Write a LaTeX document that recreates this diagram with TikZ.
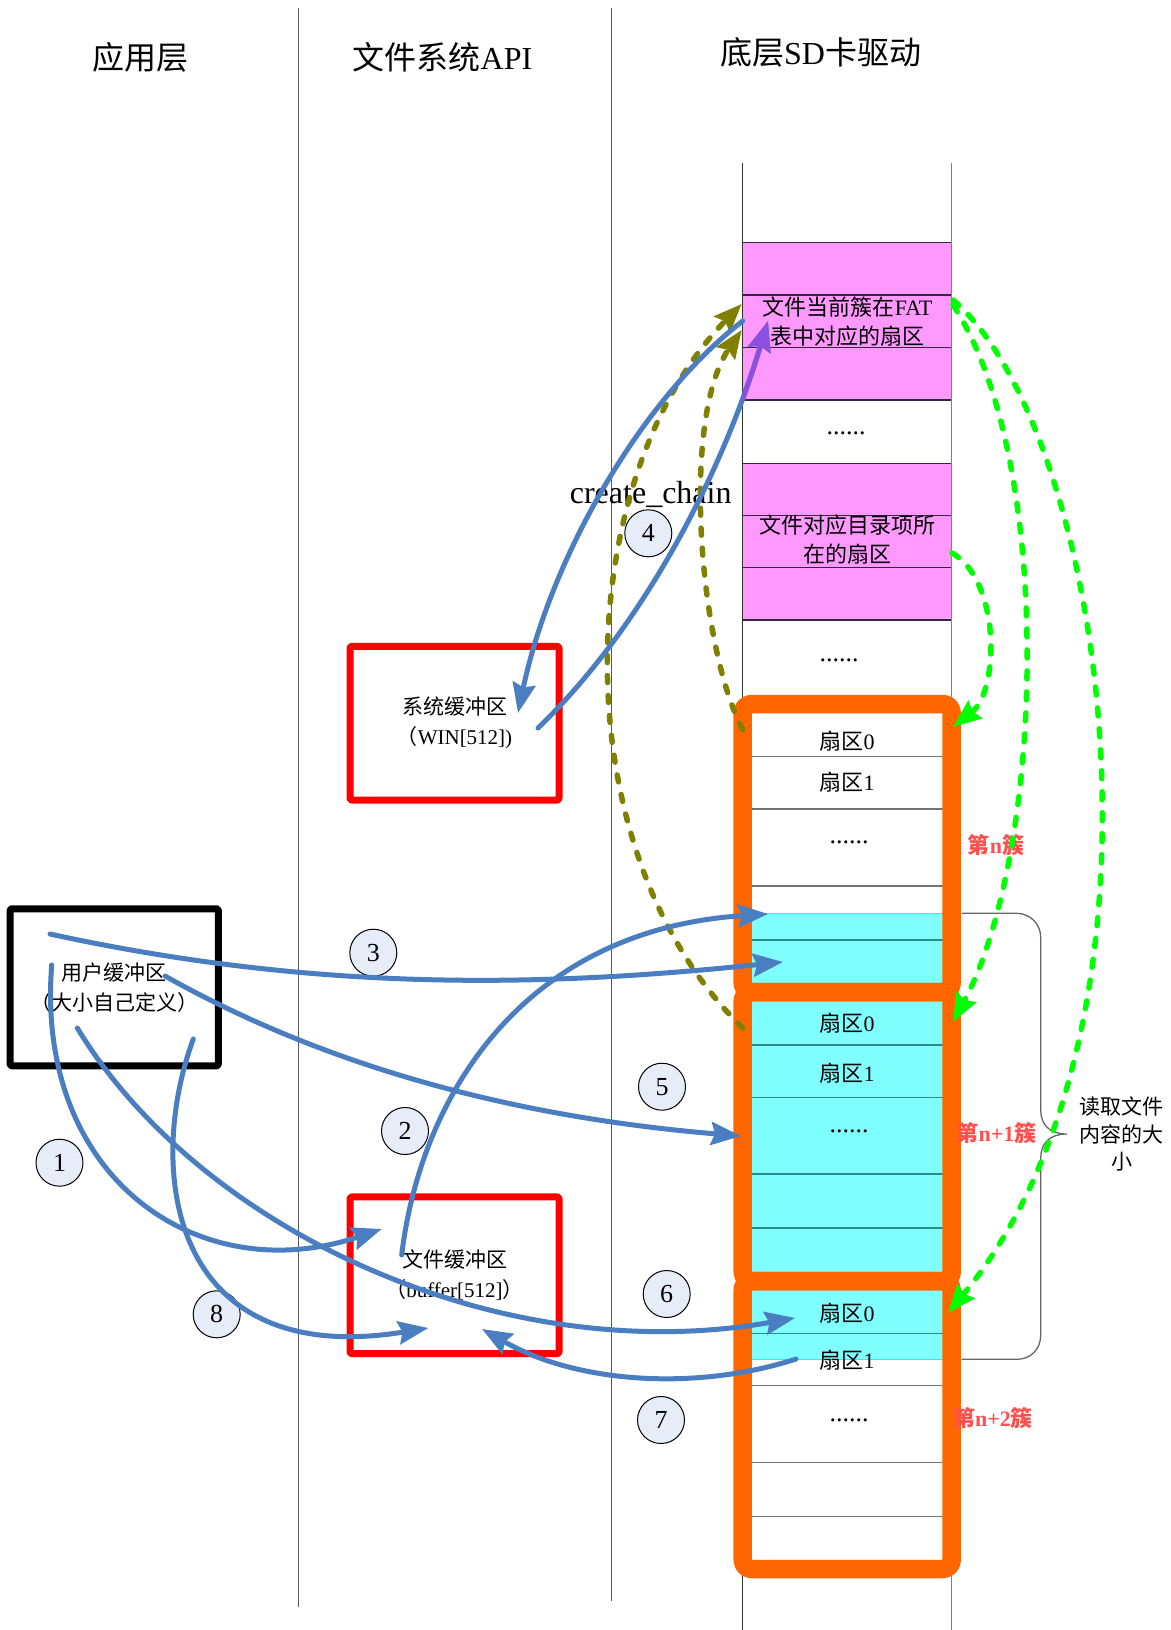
\documentclass[tikz,border=0pt]{standalone}
\usepackage{fontspec}
\setmainfont{Liberation Serif}
\newfontfamily\cjk{Noto Sans CJK SC}
\usetikzlibrary{arrows.meta}
\newcommand{\zh}[1]{{\cjk #1}}
\definecolor{pinkc}{RGB}{255,153,255}
\definecolor{cyanc}{RGB}{128,255,255}
\definecolor{cyanedge}{RGB}{64,230,230}
\definecolor{tealc}{RGB}{40,140,140}
\definecolor{orangec}{RGB}{255,102,0}
\definecolor{bluec}{RGB}{74,126,193}
\definecolor{olivec}{RGB}{128,128,0}
\definecolor{greenc}{RGB}{0,255,0}
\definecolor{purplec}{RGB}{140,80,225}
\definecolor{circfill}{RGB}{230,236,248}
\definecolor{redlab}{RGB}{255,80,80}
\definecolor{rowline}{RGB}{50,40,60}
\tikzset{
  lane/.style={draw=black!65, line width=1.2pt},
  title/.style={font=\fontsize{32}{36}\selectfont, inner sep=0pt},
  bufbox/.style={draw=red, line width=7pt, rounded corners=2pt, align=center,
    font=\fontsize{21}{30}\selectfont, inner sep=0pt},
  userbox/.style={bufbox, draw=black},
  cell/.style={font=\fontsize{22}{29.5}\selectfont, inner sep=0pt, align=center},
  dots/.style={font=\fontsize{26}{26}\selectfont, inner sep=0pt},
  clus/.style={draw=orangec, line width=18.5pt, rounded corners=9pt},
  cluslab/.style={text=redlab, font=\fontsize{22}{22}\selectfont\bfseries, inner sep=0pt},
  num/.style={circle, draw=black, line width=1pt, fill=circfill, minimum size=47pt,
    inner sep=0pt, font=\fontsize{26}{26}\selectfont},
  bigtip/.style={-{Stealth[length=30pt,width=23pt,inset=4pt]}},
  bluearr/.style={draw=bluec, line width=5pt, line cap=round, bigtip},
  purplearr/.style={draw=purplec, line width=5pt, line cap=round, bigtip},
  olivearr/.style={draw=olivec, line width=5.5pt, line cap=round,
    dash pattern=on 7pt off 13pt, -{Stealth[length=28pt,width=22pt,inset=4pt]}},
  greenarr/.style={draw=greenc, line width=5.5pt, line cap=round,
    dash pattern=on 8pt off 13pt, -{Stealth[length=28pt,width=22pt,inset=3pt]}},
  bracel/.style={draw=black!60, line width=1.3pt},
}
\begin{document}
\begin{tikzpicture}[x=1pt, y=-1pt, line join=round]
\useasboundingbox (0,0) rectangle (1170,1630);
\fill[white] (0,0) rectangle (1170,1630);

% lanes and their titles
\draw[lane] (298.5,8) -- (298.5,1607);
\draw[lane] (611.5,8) -- (611.5,1601);
\node[title] (tapp) at (140.4,57) {\zh{应用层}};
\node[title] (tapi) at (442.5,57) {\zh{文件系统}API};
\node[title] (tsd) at (820.6,52) {\zh{底层}SD\zh{卡驱动}};

% buffers
\node[userbox, minimum width=208.3pt, minimum height=157.1pt] (ubuf) at (114.2,987.3)
  {\zh{用户缓冲区}\\\zh{（大小自己定义）}};
\node[bufbox, minimum width=209pt, minimum height=153.7pt] (winbuf) at (454.5,723.2)
  {\zh{系统缓冲区}\\\zh{（}WIN[512])};
\node[bufbox, minimum width=209pt, minimum height=156.7pt] (filebuf) at (454.5,1275.3)
  {\zh{文件缓冲区}\\\zh{（}buffer[512]\zh{）}};

% SD card sector column
\fill[pinkc] (742.7,242.7) rectangle (951.7,400);
\fill[pinkc] (742.7,463.3) rectangle (951.7,620);
\fill[cyanc] (742.7,913.3) rectangle (951.7,1359.3);
\foreach \y in {242.7,295,347.3,400,463.3,515.3,567.7,620}
  \draw[rowline, line width=1.2pt] (742.7,\y) -- (951.7,\y);
\foreach \y in {756.7,809,886,1385.7,1462.7,1516.7}
  \draw[black!55, line width=1.2pt] (742.7,\y) -- (951.7,\y);
\foreach \y in {940,1045,1097.3,1174,1228,1333.3}
  \draw[tealc, line width=1.2pt] (742.7,\y) -- (951.7,\y);
\foreach \y in {913.3,1359.3}
  \draw[cyanedge, line width=1.2pt] (742.7,\y) -- (951.7,\y);
\draw[black!80, line width=1.2pt] (742.7,163) -- (742.7,1630);
\draw[black!50, line width=1.2pt] (951.7,163) -- (951.7,1630);

\node[cell] (fatsec) at (847.5,321.8) {\zh{文件当前簇在}FAT\\\zh{表中对应的扇区}};
\node[cell] (dirsec) at (847.5,539.5) {\zh{文件对应目录项所}\\\zh{在的扇区}};
\node[dots] (gap1) at (846,433) {......};
\node[dots] (gap2) at (839,660) {......};

% clusters
\draw[clus] (742.7,704) rectangle (951.7,992);
\draw[clus] (742.7,992) rectangle (951.7,1281);
\draw[clus] (742.7,1281) rectangle (951.7,1569);

\node[cell] (n0) at (847,741) {\zh{扇区}0};
\node[cell] (n1) at (847,782) {\zh{扇区}1};
\node[dots] (n2) at (849,842) {......};
\node[cell] (m0) at (847,1023) {\zh{扇区}0};
\node[cell] (m1) at (847,1073) {\zh{扇区}1};
\node[dots] (m2) at (849,1131) {......};
\node[cell] (k0) at (847,1313) {\zh{扇区}0};
\node[cell] (k1) at (847,1360) {\zh{扇区}1};
\node[dots] (k2) at (849,1420) {......};

\node[cluslab] (cn) at (996,845) {\zh{第}n\zh{簇}};
\node[cluslab] (cn1) at (996.5,1133) {\zh{第}n+1\zh{簇}};
\node[cluslab] (cn2) at (993,1418) {\zh{第}n+2\zh{簇}};

% brace for the amount of file data read
\draw[bracel] (961.7,913.3) -- (1016.7,913.3)
  .. controls (1030,913.3) and (1040.7,924) .. (1040.7,937.3) -- (1040.7,1110)
  .. controls (1040.7,1125) and (1050,1134) .. (1066.7,1134)
  .. controls (1050,1134) and (1040.7,1143) .. (1040.7,1158) -- (1040.7,1335)
  .. controls (1040.7,1350) and (1030,1359.3) .. (1016.7,1359.3) -- (961.7,1359.3);
\node[align=center, inner sep=0pt, font=\fontsize{21}{27.5}\selectfont] (rdsize) at (1121.7,1134)
  {\zh{读取文件}\\\zh{内容的大}\\\zh{小}};

\node[inner sep=0pt, font=\fontsize{32}{32}\selectfont] (cc) at (650.7,494) {create\_chain};

% step numbers
\node[num] (c1) at (59.5,1162.7) {1};
\node[num] (c2) at (405,1131) {2};
\node[num] (c3) at (373.3,952.7) {3};
\node[num] (c4) at (648.3,533.3) {4};
\node[num] (c5) at (662,1086.7) {5};
\node[num] (c6) at (666.7,1294) {6};
\node[num] (c7) at (661,1420) {7};
\node[num] (c8) at (216.7,1314.3) {8};

% connector end points
\coordinate (a1s) at (51.7,965);   \coordinate (a1e) at (381.7,1229);
\coordinate (a2s) at (401.7,1255); \coordinate (a2e) at (768,914);
\coordinate (a3s) at (50,934);     \coordinate (a3e) at (783,962);
\coordinate (a4as) at (742.7,321); \coordinate (a4ae) at (518,713);
\coordinate (a4bs) at (538,728);   \coordinate (a4be) at (768,321);
\coordinate (a5s) at (165,976);    \coordinate (a5e) at (741,1136);
\coordinate (a6s) at (77.3,1028);  \coordinate (a6e) at (795,1318);
\coordinate (a7s) at (796,1359);   \coordinate (a7e) at (482,1329);
\coordinate (a8s) at (193.3,1039); \coordinate (a8e) at (428.3,1328);
\coordinate (o1s) at (742.7,1028); \coordinate (o1e) at (741.7,304);
\coordinate (o2s) at (742.7,729.6); \coordinate (o2e) at (741.7,330);
\coordinate (gas) at (953,305);    \coordinate (gae) at (953,1022);
\coordinate (gbs) at (953,300);    \coordinate (gbe) at (948,1313);
\coordinate (gcs) at (952,553);    \coordinate (gce) at (953,727);

% FAT chain lookups
\draw[olivearr] (o1s) .. controls (560,850) and (570,480) .. (o1e);
\draw[olivearr] (o2s) .. controls (700,650) and (680,420) .. (o2e);
\draw[greenarr] (gas) .. controls (1055,460) and (1045,850) .. (gae);
\draw[greenarr] (gbs) .. controls (1105,430) and (1190,1020) .. (gbe);
\draw[greenarr] (gcs) .. controls (1000,580) and (1000,690) .. (gce);

% data transfers
\draw[bluearr] (a1s) .. controls (35,1180) and (200,1290) .. (a1e);
\draw[bluearr] (a2s) .. controls (420,1100) and (520,930) .. (a2e);
\draw[bluearr] (a3s) .. controls (330,995) and (560,985) .. (a3e);
\draw[bluearr] (a4as) .. controls (640,400) and (550,560) .. (a4ae);
\draw[bluearr] (a4bs) .. controls (640,630) and (720,480) .. (a4be);
\begin{scope}
  \clip (742.7,242.7) rectangle (951.7,400);
  \draw[purplearr] (a4bs) .. controls (640,630) and (720,480) .. (a4be);
\end{scope}
\draw[bluearr] (a5s) .. controls (350,1080) and (550,1120) .. (a5e);
\draw[bluearr] (a6s) .. controls (200,1230) and (500,1370) .. (a6e);
\draw[bluearr] (a7s) .. controls (700,1390) and (580,1385) .. (a7e);
\draw[bluearr] (a8s) .. controls (145,1170) and (170,1370) .. (a8e);
\end{tikzpicture}
\end{document}
